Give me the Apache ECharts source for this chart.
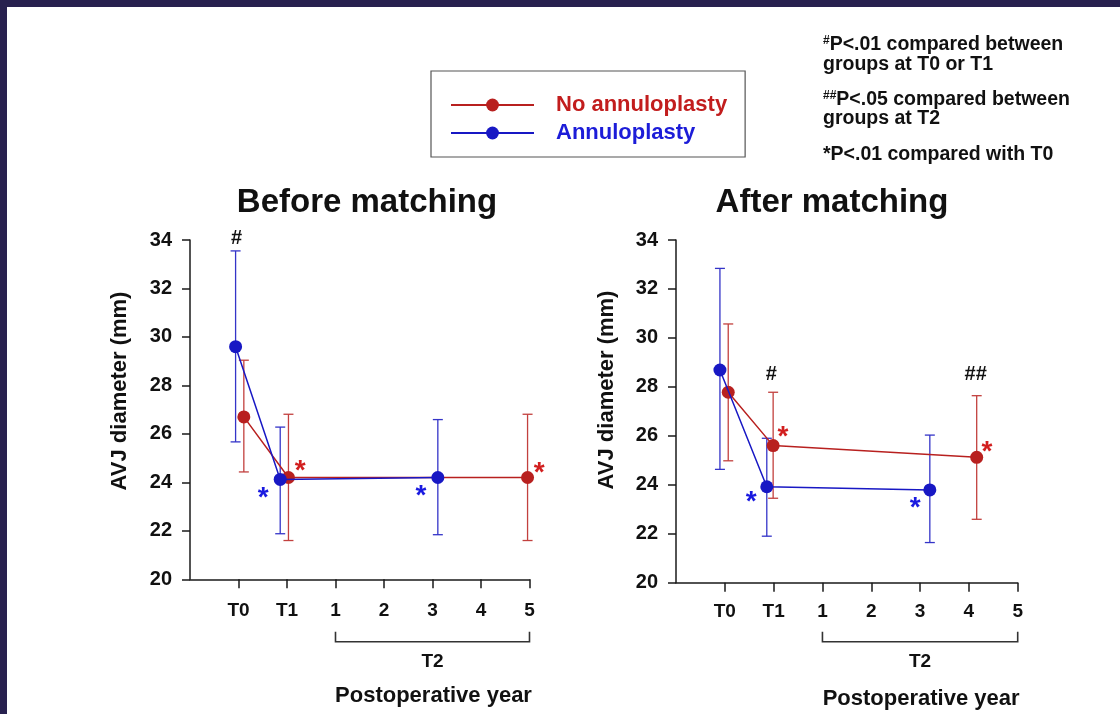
<!DOCTYPE html>
<html><head><meta charset="utf-8">
<script src="https://cdn.jsdelivr.net/npm/echarts@6/dist/echarts.min.js"></script>
<style>html,body{margin:0;padding:0;background:#fff}#c{width:1120px;height:714px}</style>
</head><body><div id="c"></div><script>
// ---- data ----
const xTickLabels = ['T0', 'T1', '1', '2', '3', '4', '5']; // at axis positions 1..7
const yMin = 20, yMax = 34, yStep = 2;
const seriesNames = ['No annuloplasty', 'Annuloplasty'];
const panelTitles = ['Before matching', 'After matching'];

// Before matching
const beforeRedX = [1.11, 2.03, 6.96];
const beforeRedMean = [26.7, 24.2, 24.2];
const beforeRedLow = [24.43, 21.6, 21.6];
const beforeRedHigh = [29.04, 26.81, 26.81];
const beforeBlueX = [0.94, 1.86, 5.11];
const beforeBlueMean = [29.6, 24.12, 24.2];
const beforeBlueLow = [25.67, 21.88, 21.84];
const beforeBlueHigh = [33.55, 26.28, 26.59];

// After matching
const afterRedX = [1.07, 1.99, 6.16];
const afterRedMean = [27.78, 25.6, 25.12];
const afterRedLow = [24.98, 23.45, 22.59];
const afterRedHigh = [30.57, 27.78, 27.64];
const afterBlueX = [0.90, 1.86, 5.20];
const afterBlueMean = [28.69, 23.92, 23.79];
const afterBlueLow = [24.63, 21.9, 21.64];
const afterBlueHigh = [32.84, 25.9, 26.03];

// significance marks: [x, y, text, group]
const beforeMarks = [[1.51, 23.6, '*', 'blue'], [2.27, 24.7, '*', 'red'], [4.76, 23.68, '*', 'blue'], [7.2, 24.64, '*', 'red'], [0.96, 34.07, '#', 'black']];
const afterMarks = [[1.54, 23.51, '*', 'blue'], [2.19, 26.17, '*', 'red'], [4.9, 23.27, '*', 'blue'], [6.37, 25.58, '*', 'red'], [1.95, 28.49, '#', 'black'], [6.14, 28.49, '##', 'black']];

const noteLines = [
  ['#', 'P<.01 compared between'], ['', 'groups at T0 or T1'],
  ['##', 'P<.05 compared between'], ['', 'groups at T2'],
  ['', '*P<.01 compared with T0']
];
const bracketLabel = 'T2';
const xAxisName = 'Postoperative year';
const yAxisName = 'AVJ diameter (mm)';

// ---- styles ----
const FONT = '"Liberation Sans", Arial, Helvetica, sans-serif';
const RED = '#b8201f', RED_ERR = '#c2403e', RED_TXT = '#c21d1d';
const BLUE = '#1818c4', BLUE_ERR = '#3434c8', BLUE_TXT = '#1c1cd8';
const AX = '#1a1a1a';
const markColor = { red: '#d21f1f', blue: '#1a1ae0', black: '#111' };

const chart = echarts.init(document.getElementById('c'), null, { renderer: 'canvas' });

function errSeries(gi, xs, lo, hi, color) {
  return {
    type: 'custom', xAxisIndex: gi, yAxisIndex: gi, z: 2, silent: true,
    data: xs.map((x, i) => [x, lo[i], hi[i]]),
    renderItem(params, api) {
      const x = api.value(0);
      const a = api.coord([x, api.value(1)]);
      const b = api.coord([x, api.value(2)]);
      const w = 5;
      const st = { stroke: color, lineWidth: 1.3 };
      return { type: 'group', children: [
        { type: 'line', shape: { x1: a[0], y1: a[1], x2: b[0], y2: b[1] }, style: st },
        { type: 'line', shape: { x1: a[0] - w, y1: a[1], x2: a[0] + w, y2: a[1] }, style: st },
        { type: 'line', shape: { x1: b[0] - w, y1: b[1], x2: b[0] + w, y2: b[1] }, style: st }
      ] };
    }
  };
}
function lineSeries(gi, name, xs, ys, color, z) {
  return {
    type: 'line', name, xAxisIndex: gi, yAxisIndex: gi, z,
    data: xs.map((x, i) => [x, ys[i]]),
    symbol: 'circle', symbolSize: 13, showSymbol: true,
    lineStyle: { color, width: 1.5 }, itemStyle: { color },
    emphasis: { disabled: true }, animation: false
  };
}
function markSeries(gi, marks) {
  return {
    type: 'scatter', xAxisIndex: gi, yAxisIndex: gi, symbolSize: 0, silent: true, z: 6, clip: false,
    itemStyle: { opacity: 1 },
    data: marks.map(m => ({
      value: [m[0], m[1]],
      label: {
        show: true, position: 'inside', formatter: m[2], opacity: 1,
        color: markColor[m[3]], fontFamily: FONT, fontWeight: 'bold',
        textBorderWidth: 0, textBorderColor: 'transparent',
        fontSize: m[2] === '*' ? 28 : 20,
        offset: m[2] === '*' ? [0, 6] : [0, 0]
      }
    }))
  };
}
function xAxisCfg(gi, margin) {
  return {
    type: 'value', gridIndex: gi, min: 0, max: 7, interval: 1,
    axisLine: { show: true, onZero: false, lineStyle: { color: AX, width: 1.5 } },
    axisTick: { show: true, length: 9, customValues: [1, 2, 3, 4, 5, 6, 7], lineStyle: { color: AX, width: 1.5 } },
    axisLabel: { customValues: [1, 2, 3, 4, 5, 6, 7], formatter: v => xTickLabels[v - 1] || '',
      fontSize: 19, fontWeight: 'bold', color: '#111', fontFamily: FONT, margin },
    splitLine: { show: false }
  };
}
function yAxisCfg(gi) {
  return {
    type: 'value', gridIndex: gi, min: yMin, max: yMax, interval: yStep,
    axisLine: { show: true, lineStyle: { color: AX, width: 1.5 } },
    axisTick: { show: true, length: 8, lineStyle: { color: AX, width: 1.5 } },
    axisLabel: { fontSize: 20, fontWeight: 'bold', color: '#111', fontFamily: FONT, margin: 18 },
    splitLine: { show: false }
  };
}

chart.setOption({
  animation: false,
  backgroundColor: '#fff',
  title: [
    { text: panelTitles[0], left: 367, top: 186, textAlign: 'center', padding: 0,
      textStyle: { fontSize: 33, fontWeight: 'bold', color: '#111', fontFamily: FONT } },
    { text: panelTitles[1], left: 832, top: 186, textAlign: 'center', padding: 0,
      textStyle: { fontSize: 33, fontWeight: 'bold', color: '#111', fontFamily: FONT } }
  ],
  legend: {
    data: [
      { name: seriesNames[0], textStyle: { color: RED_TXT } },
      { name: seriesNames[1], textStyle: { color: BLUE_TXT } }
    ],
    orient: 'vertical', left: 431, top: 71, itemWidth: 83, itemHeight: 16, itemGap: 6,
    padding: [23, 18, 13, 19], borderColor: '#555', borderWidth: 1.2, selectedMode: false,
    textStyle: { fontSize: 22, fontWeight: 'bold', fontFamily: FONT, padding: [0, 0, 0, 17] }
  },
  grid: [
    { left: 190, top: 240, width: 339.5, height: 339.3 },
    { left: 676, top: 240, width: 341.7, height: 342.7 }
  ],
  xAxis: [xAxisCfg(0, 22), xAxisCfg(1, 20)],
  yAxis: [yAxisCfg(0), yAxisCfg(1)],
  series: [
    errSeries(0, beforeRedX, beforeRedLow, beforeRedHigh, RED_ERR),
    errSeries(0, beforeBlueX, beforeBlueLow, beforeBlueHigh, BLUE_ERR),
    lineSeries(0, seriesNames[0], beforeRedX, beforeRedMean, RED, 3),
    lineSeries(0, seriesNames[1], beforeBlueX, beforeBlueMean, BLUE, 4),
    markSeries(0, beforeMarks),
    errSeries(1, afterRedX, afterRedLow, afterRedHigh, RED_ERR),
    errSeries(1, afterBlueX, afterBlueLow, afterBlueHigh, BLUE_ERR),
    lineSeries(1, seriesNames[0], afterRedX, afterRedMean, RED, 3),
    lineSeries(1, seriesNames[1], afterBlueX, afterBlueMean, BLUE, 4),
    markSeries(1, afterMarks)
  ]
});

// decorations positioned from the axes
const g = [];
g.push({ type: 'rect', shape: { x: 0, y: 0, width: 1120, height: 7 }, style: { fill: '#28214f' }, z: 100 });
g.push({ type: 'rect', shape: { x: 0, y: 0, width: 7, height: 714 }, style: { fill: '#28214f' }, z: 100 });

const txt = (x, y, text, size) => ({
  type: 'text', x, y,
  style: { text, fill: '#111', fontSize: size, fontWeight: 'bold', fontFamily: FONT,
    align: 'center', verticalAlign: 'middle' }
});

[[0, 120, 391, 695.5], [1, 606.7, 390, 699]].forEach(([gi, yx, yy, pyY]) => {
  const p1 = chart.convertToPixel({ gridIndex: gi }, [3, yMin]);
  const p5 = chart.convertToPixel({ gridIndex: gi }, [7, yMin]);
  const by = 641.7, bt = 631.7;
  g.push({ type: 'polyline', shape: { points: [[p1[0], bt], [p1[0], by], [p5[0], by], [p5[0], bt]] },
    style: { stroke: '#333', lineWidth: 1.6, fill: null } });
  g.push(txt((p1[0] + p5[0]) / 2, 662, bracketLabel, 19));
  g.push(txt((p1[0] + p5[0]) / 2 + 1, pyY, xAxisName, 22));
  const t = txt(yx, yy, yAxisName, 22);
  t.rotation = Math.PI / 2;
  g.push(t);
});

const noteY = [45, 65, 100, 119, 155];
noteLines.forEach((ln, i) => {
  g.push({ type: 'text', x: 823, y: noteY[i], style: {
    text: (ln[0] ? '{s|' + ln[0] + '}' : '') + '{m|' + ln[1] + '}',
    fontFamily: FONT, fontWeight: 'bold', fill: '#111', verticalAlign: 'middle', align: 'left',
    rich: {
      s: { fontSize: 12, fontWeight: 'bold', fontFamily: FONT, fill: '#111', verticalAlign: 'top', lineHeight: 20 },
      m: { fontSize: 19.5, fontWeight: 'bold', fontFamily: FONT, fill: '#111', lineHeight: 20 }
    }
  } });
});
chart.setOption({ graphic: g });
</script></body></html>
